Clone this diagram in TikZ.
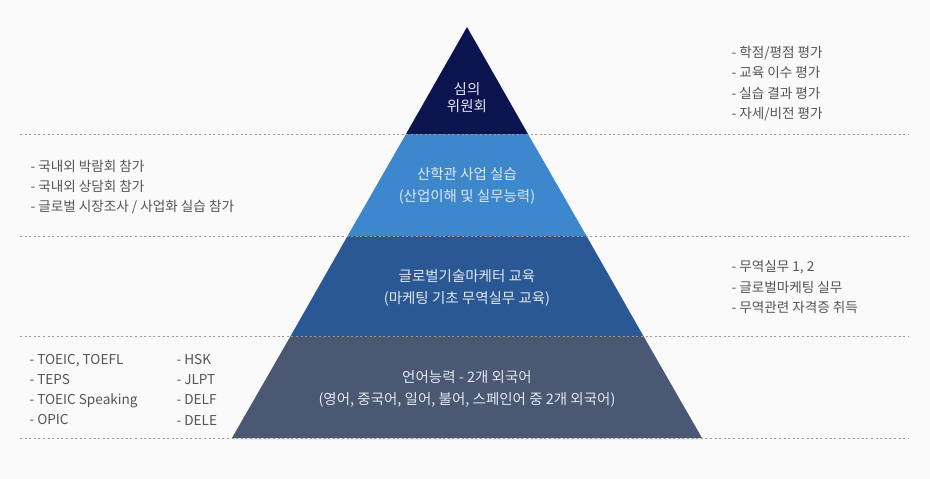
\documentclass[tikz,border=0pt]{standalone}
\usepackage{fontspec}
\setmainfont{Noto Sans CJK KR}
\usepackage{tikz}
\usetikzlibrary{shadows}
\definecolor{bgcol}{HTML}{FAFAFA}
\definecolor{toplevel}{HTML}{0C1450}
\definecolor{practice}{HTML}{3D88CC}
\definecolor{marketer}{HTML}{2A5894}
\definecolor{language}{HTML}{4A5874}
\definecolor{inner}{HTML}{E2E7F0}
\definecolor{sidetext}{HTML}{555555}
\definecolor{sepline}{HTML}{9A9A9A}

\begin{document}
\begin{tikzpicture}[x=1pt,y=-1pt,
  mid/.style={text=inner,align=center,font=\fontsize{14.5}{22}\selectfont},
  side/.style={text=sidetext,align=left,anchor=west,font=\fontsize{13.6}{20.3}\selectfont},
  sep/.style={sepline,line width=0.8pt,dash pattern=on 2pt off 2.6pt}]
 \fill[bgcol] (0,0) rectangle (930,479);
 \useasboundingbox (0,0) rectangle (930,479);

 % pyramid layers
 \fill[language,drop shadow={opacity=0.12,shadow xshift=1pt,shadow yshift=-2pt}] (290.6,336) -- (643.4,336) -- (702,438) -- (232,438) -- cycle;
 \fill[marketer] (347.5,236) -- (586.5,236) -- (643.4,336) -- (290.6,336) -- cycle;
 \fill[practice] (406,134) -- (528,134) -- (586.5,236) -- (347.5,236) -- cycle;
 \fill[toplevel] (467,27) -- (528,134) -- (406,134) -- cycle;

 % separators
 \draw (20,134) coordinate (l1) (908,134) coordinate (r1);
 \draw (20,236) coordinate (l2) (908,236) coordinate (r2);
 \draw (20,336) coordinate (l3) (908,336) coordinate (r3);
 \draw (20,438) coordinate (l4) (908,438) coordinate (r4);
 \path[sep] (l1) edge (r1) (l2) edge (r2) (l3) edge (r3) (l4) edge (r4);

 % labels inside
 \draw (467,97.5) node[mid,font=\fontsize{14.5}{17.5}\selectfont] (simui) {심의\\위원회};
 \draw (467,186) node[mid] (sanhak) {산학관 사업 실습\\(산업이해 및 실무능력)};
 \draw (467,288) node[mid] (glomark) {글로벌기술마케터 교육\\(마케팅 기초 무역실무 교육)};
 \draw (467,389) node[mid] (lang) {언어능력 - 2개 외국어\\(영어, 중국어, 일어, 불어, 스페인어 중 2개 외국어)};

 % side notes
 \draw (728,83.5) node[side] (eval) {- 학점/평점 평가\\- 교육 이수 평가\\- 실습 결과 평가\\- 자세/비전 평가};
 \draw (27,187) node[side] (fair) {- 국내외 박람회 참가\\- 국내외 상담회 참가\\- 글로벌 시장조사 / 사업화 실습 참가};
 \draw (728,287) node[side] (trade) {- 무역실무 1, 2\\- 글로벌마케팅 실무\\- 무역관련 자격증 취득};
 \draw (26,389.5) node[side] (eng) {- TOEIC, TOEFL\\- TEPS\\- TOEIC Speaking\\- OPIC};
 \draw (173,389.5) node[side] (etc) {- HSK\\- JLPT\\- DELF\\- DELE};

\end{tikzpicture}
\end{document}
